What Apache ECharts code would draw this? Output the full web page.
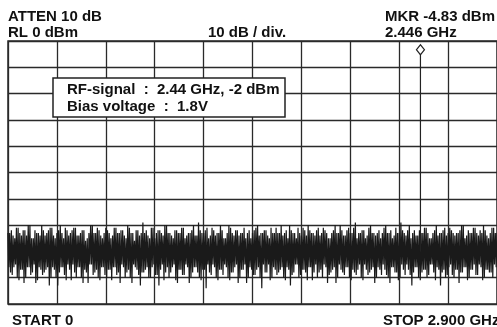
<!DOCTYPE html>
<html>
<head>
<meta charset="utf-8">
<script src="https://cdn.jsdelivr.net/npm/echarts@6/dist/echarts.min.js"></script>
<style>html,body{margin:0;padding:0;background:#fff;}#c{width:497px;height:327px;}</style>
</head>
<body>
<div id="c"></div>
<script>
// Sweep settings (GHz) and reference level (dBm)
var startGHz = 0;
var stopGHz = 2.9;
var refLevel = 0;
var dbPerDiv = 10;
// Noise floor trace (dBm): first sample of each sweep pair
var noiseA = [
-73,-88,-72,-86,-75,-90,-71,-87,-74,-92,-72,-86,-70,-89,-75,-85,-72,-91,-73,-87,
-70,-88,-74,-86,-72,-90,-71,-87,-75,-93,-72,-86,-73,-89,-71,-85,-74,-91,-72,-88,
-71,-86,-74,-90,-72,-87,-76,-92,-73,-85,-70,-88,-73,-90,-72,-86,-75,-89,-71,-87,
-73,-91,-74,-86,-71,-88,-73,-85,-72,-90,-75,-87,-71,-92,-73,-86,-72,-89,-74,-88,
-69,-87,-72,-90,-75,-86,-71,-89,-73,-93,-72,-85,-74,-88,-70,-90,-73,-86,-75,-91,
-72,-87,-73,-89,-71,-85,-74,-92,-73,-88,-70,-86,-74,-90,-72,-87,-73,-94,-71,-88,
-74,-85,-72,-90,-73,-87,-70,-89,-75,-86,-73,-91,-71,-88,-74,-85,-72,-90,-73,-87,
-71,-92,-73,-86,-75,-89,-72,-87,-70,-90,-73,-85,-72,-88,-74,-91,-71,-86,-73,-89,
-73,-87,-70,-90,-73,-86,-75,-93,-72,-88,-73,-85,-71,-89,-74,-87,-72,-91,-70,-86,
-73,-88,-74,-90,-71,-87,-73,-85,-72,-92,-75,-88,-73,-86,-70,-90,-73,-87,-72,-89,
-74,-86,-71,-91,-73,-88,-69,-87,-73,-90,-72,-85,-75,-89,-71,-87,-73,-92,-74,-86,
-72,-89,-73,-87,-70,-90,-73,-86,-75,-88,-71,-91,-73,-85,-72,-89,-74,-87,-70,-93,
-73,-86,-74,-90,-72,-88,-73,-87,-71,-89,-75,-85,-73,-91,-70,-87,-73,-88,-72,-90,
-74,-86,-71,-89,-73,-87,-73,-92,-72,-88,-70,-86,-74,-90,-73,-87,-71,-89,-73,-85,
-72,-91,-70,-87,-74,-88,-73,-90,-71,-86,-73
];
// Noise floor trace (dBm): second sample of each sweep pair
var noiseB = [
-86,-73,-89,-74,-85,-71,-91,-73,-87,-72,-90,-74,-86,-70,-88,-75,-92,-73,-86,-74,
-89,-72,-87,-73,-93,-71,-86,-74,-90,-73,-88,-70,-86,-75,-91,-72,-87,-73,-85,-71,
-90,-74,-86,-73,-92,-72,-88,-75,-85,-70,-89,-73,-87,-71,-91,-74,-86,-73,-90,-72,
-87,-75,-86,-71,-89,-73,-92,-72,-86,-74,-88,-70,-90,-73,-85,-76,-87,-72,-93,-73,
-88,-73,-86,-74,-90,-71,-85,-75,-89,-72,-87,-73,-91,-70,-86,-73,-88,-74,-85,-72,
-92,-73,-87,-71,-89,-75,-86,-73,-90,-72,-86,-74,-88,-69,-91,-73,-87,-72,-85,-75,
-89,-71,-86,-74,-91,-73,-87,-72,-85,-75,-90,-70,-88,-73,-86,-72,-92,-74,-87,-73,
-85,-75,-90,-72,-87,-73,-89,-71,-86,-74,-94,-73,-88,-72,-85,-75,-90,-73,-87,-71,
-88,-73,-86,-74,-91,-72,-87,-70,-89,-73,-85,-75,-90,-73,-87,-71,-88,-74,-86,-72,
-91,-73,-85,-72,-88,-74,-90,-71,-86,-73,-89,-75,-87,-72,-92,-73,-85,-70,-88,-74,
-86,-72,-90,-73,-87,-71,-89,-75,-85,-73,-91,-72,-87,-74,-88,-70,-86,-73,-90,-73,
-87,-75,-85,-71,-89,-73,-92,-72,-86,-74,-88,-73,-90,-69,-87,-73,-85,-72,-89,-75,
-88,-72,-86,-74,-91,-73,-87,-71,-90,-73,-85,-75,-88,-72,-86,-74,-93,-73,-87,-71,
-89,-73,-85,-72,-90,-74,-87,-73,-88,-70,-86,-75,-91,-72,-87,-73,-85,-71,-89,-74,
-86,-73,-90,-72,-87,-75,-88,-71,-85,-73
];
// Marker
var markerFreq = 2.446;
var markerLevel = -4.83;
var markerBase = -80;
// Texts
var topLeft1 = 'ATTEN 10 dB';
var topLeft2 = 'RL 0 dBm';
var topMid = '10 dB / div.';
var topRight1 = 'MKR -4.83 dBm';
var topRight2 = '2.446 GHz';
var bottomLeft = 'START 0';
var bottomRight = 'STOP 2.900 GHz';
var note1 = 'RF-signal  :  2.44 GHz, -2 dBm';
var note2 = 'Bias voltage  :  1.8V';

// Each sweep pair is drawn peak first, then trough (like a peak-detect display)
var trace = [];
for (var k = 0; k < noiseA.length; k++) {
  if (k < noiseB.length) {
    trace.push(Math.max(noiseA[k], noiseB[k]));
    trace.push(Math.min(noiseA[k], noiseB[k]));
  } else {
    trace.push(noiseA[k]);
  }
}
var n = trace.length;
var traceData = trace.map(function (v, i) {
  return [startGHz + i * (stopGHz - startGHz) / (n - 1), v];
});

var FONT = 'bold 15px "Liberation Sans", Arial, sans-serif';
var gridColor = '#2a2a2a';

var chart = echarts.init(document.getElementById('c'), null, {renderer: 'canvas'});
chart.setOption({
  animation: false,
  backgroundColor: '#fff',
  grid: {left: 8, top: 41, width: 490, height: 263, show: true, borderColor: gridColor, borderWidth: 1.5},
  xAxis: {
    type: 'value', min: startGHz, max: stopGHz, interval: (stopGHz - startGHz) / 10,
    axisLine: {show: false}, axisTick: {show: false}, axisLabel: {show: false},
    splitLine: {show: true, lineStyle: {color: gridColor, width: 1.3}}
  },
  yAxis: {
    type: 'value', min: refLevel - 10 * dbPerDiv, max: refLevel, interval: dbPerDiv,
    axisLine: {show: false}, axisTick: {show: false}, axisLabel: {show: false},
    splitLine: {show: true, lineStyle: {color: gridColor, width: 1.3}}
  },
  series: [
    {
      type: 'line', data: traceData, showSymbol: false, silent: true, sampling: null,
      lineStyle: {color: '#1a1a1a', width: 1.2}, z: 3
    },
    {
      type: 'line', silent: true, z: 4,
      data: [
        {value: [markerFreq, markerBase], symbol: 'none'},
        {value: [markerFreq, markerLevel], symbol: 'diamond', symbolSize: [8, 10], symbolOffset: [0, -4]}
      ],
      lineStyle: {color: '#222', width: 1.2},
      itemStyle: {color: '#fff', borderColor: '#222', borderWidth: 1.2},
      showSymbol: true, showAllSymbol: true
    }
  ],
  graphic: [
    {type: 'text', x: 8, y: 17, style: {text: topLeft1, font: FONT, fill: '#111', textVerticalAlign: 'middle'}},
    {type: 'text', x: 8, y: 33, style: {text: topLeft2, font: FONT, fill: '#111', textVerticalAlign: 'middle'}},
    {type: 'text', x: 208, y: 33, style: {text: topMid, font: FONT, fill: '#111', textVerticalAlign: 'middle'}},
    {type: 'text', x: 385, y: 17, style: {text: topRight1, font: FONT, fill: '#111', textVerticalAlign: 'middle'}},
    {type: 'text', x: 385, y: 33, style: {text: topRight2, font: FONT, fill: '#111', textVerticalAlign: 'middle'}},
    {type: 'text', x: 12, y: 321, style: {text: bottomLeft, font: FONT, fill: '#111', textVerticalAlign: 'middle'}},
    {type: 'text', x: 383, y: 321, style: {text: bottomRight, font: FONT, fill: '#111', textVerticalAlign: 'middle'}},
    {type: 'rect', shape: {x: 53, y: 78, width: 232, height: 39}, style: {fill: '#fff', stroke: '#222', lineWidth: 1.5}, z: 10},
    {type: 'text', x: 67, y: 90, z: 11, style: {text: note1, font: FONT, fill: '#111', textVerticalAlign: 'middle'}},
    {type: 'text', x: 67, y: 107, z: 11, style: {text: note2, font: FONT, fill: '#111', textVerticalAlign: 'middle'}}
  ]
});
</script>
</body>
</html>
